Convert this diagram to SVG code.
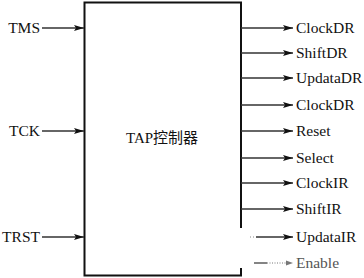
<svg xmlns="http://www.w3.org/2000/svg" width="364" height="278" viewBox="0 0 364 278">
<style>
.lbl{font-family:"Liberation Serif","Times New Roman",serif;font-size:15.5px;fill:#111}
.title{font-family:"Liberation Serif","Noto Sans CJK SC",serif;font-size:15px;fill:#111}
.ln{stroke:#333;stroke-width:1.5;fill:none}
.box{fill:#fff;stroke:#111;stroke-width:2}
</style>
<defs>
<marker id="ah" viewBox="0 0 10 6" refX="10" refY="3" markerWidth="10" markerHeight="6" markerUnits="userSpaceOnUse" orient="auto">
<path d="M0,0 L10,3 L0,6 L2,3 Z" fill="#111"/>
</marker>
</defs>
<rect width="364" height="278" fill="#fff"/>
<g id="tap">
<path class="box" d="M241,228 V2.5 H84.5 V275.5 H241 V268"/>
<text class="title" x="162" y="143" text-anchor="middle">TAP控制器</text>
</g>
<g id="inputs">
<text class="lbl" x="40" y="33" text-anchor="end">TMS</text>
<text class="lbl" x="40" y="136" text-anchor="end">TCK</text>
<text class="lbl" x="40" y="242" text-anchor="end">TRST</text>
</g>
<g id="outputs">
<text class="lbl" x="296" y="33">ClockDR</text>
<text class="lbl" x="296" y="58">ShiftDR</text>
<text class="lbl" x="296" y="83">UpdataDR</text>
<text class="lbl" x="296" y="110">ClockDR</text>
<text class="lbl" x="296" y="136">Reset</text>
<text class="lbl" x="296" y="163">Select</text>
<text class="lbl" x="296" y="188">ClockIR</text>
<text class="lbl" x="296" y="214">ShiftIR</text>
<text class="lbl" x="296" y="242">UpdataIR</text>
<text class="lbl" x="296" y="268" style="fill:#555">Enable</text>
</g>
<g id="connectors">
<line class="ln" x1="42" y1="28" x2="84" y2="28" marker-end="url(#ah)"/>
<line class="ln" x1="42" y1="131" x2="84" y2="131" marker-end="url(#ah)"/>
<line class="ln" x1="42" y1="237" x2="84" y2="237" marker-end="url(#ah)"/>
<line class="ln" x1="241" y1="28" x2="293" y2="28" marker-end="url(#ah)"/>
<line class="ln" x1="241" y1="53" x2="293" y2="53" marker-end="url(#ah)"/>
<line class="ln" x1="241" y1="78" x2="293" y2="78" marker-end="url(#ah)"/>
<line class="ln" x1="241" y1="105" x2="293" y2="105" marker-end="url(#ah)"/>
<line class="ln" x1="241" y1="131" x2="293" y2="131" marker-end="url(#ah)"/>
<line class="ln" x1="241" y1="158" x2="293" y2="158" marker-end="url(#ah)"/>
<line class="ln" x1="241" y1="183" x2="293" y2="183" marker-end="url(#ah)"/>
<line class="ln" x1="241" y1="209" x2="293" y2="209" marker-end="url(#ah)"/>
<line class="ln" x1="256" y1="237" x2="293" y2="237" marker-end="url(#ah)"/>
<line x1="250" y1="237" x2="255" y2="237" stroke="#888" stroke-width="1" stroke-dasharray="1,2"/>
<line x1="254" y1="263" x2="267" y2="263" stroke="#333" stroke-width="1.2"/>
<line x1="267" y1="263" x2="286" y2="263" stroke="#777" stroke-width="1" stroke-dasharray="1,1.5"/>
<path d="M286,260.5 L293,263 L286,265.5 Z" fill="#777"/>
</g>
</svg>
